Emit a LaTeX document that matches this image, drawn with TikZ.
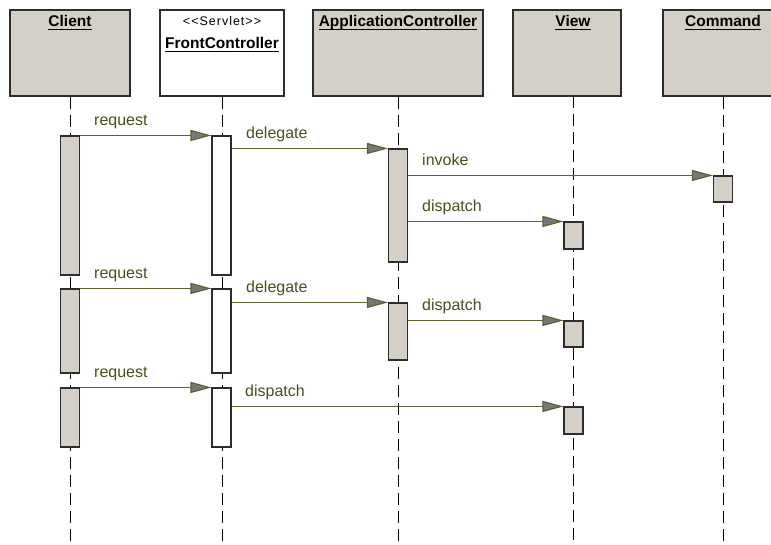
\documentclass[tikz,border=0pt]{standalone}
\usepackage{fontspec}
\setmainfont{Liberation Sans}
\usetikzlibrary{arrows.meta}
\definecolor{boxgray}{RGB}{212,208,200}
\definecolor{msgline}{RGB}{96,96,48}
\definecolor{msgtext}{RGB}{77,77,30}
\definecolor{tipgray}{RGB}{120,120,120}
\definecolor{edge}{RGB}{45,45,45}
\begin{document}
\begin{tikzpicture}[x=1pt,y=-1pt,
  head/.style={draw=edge, line width=1.2pt, fill=boxgray, minimum height=86pt, inner sep=0pt},
  title/.style={font=\fontsize{15.5}{18}\selectfont\bfseries, inner sep=0pt, anchor=base},
  stereo/.style={font=\fontsize{12.5}{15}\selectfont\addfontfeature{Ligatures=TeXOff,LetterSpace=8}, inner sep=0pt, anchor=base},
  uline/.style={draw=black, line width=1pt},
  life/.style={draw=black, line width=1pt, dash pattern=on 12pt off 6pt},
  bar/.style={draw=edge, line width=1.1pt, fill=boxgray, minimum width=19pt, inner sep=0pt},
  wbar/.style={bar, fill=white},
  msg/.style={draw=msgline, line width=1.2pt, -{Triangle[length=21pt,width=11pt,fill=tipgray]}},
  lbl/.style={font=\fontsize{16}{19}\selectfont, text=msgtext, inner sep=0pt, anchor=base west},
]
\useasboundingbox (0,0) rectangle (771,544);
\clip (0,0) rectangle (771,544);

% heads
\node[head, minimum width=120pt] (h1) at (70,53) {};
\node[head, minimum width=124pt, fill=white] (h2) at (222,53) {};
\node[head, minimum width=170pt] (h3) at (398,53) {};
\node[head, minimum width=108pt] (h4) at (567,53) {};
\node[head, minimum width=120pt] (h5) at (723,53) {};

\node[title] (t1) at (70,26) {Client};
\node[stereo] (s2) at (222,25) {<<Servlet>>};
\node[title] (t2) at (222,48) {FrontController};
\node[title] (t3) at (398,26) {ApplicationController};
\node[title] (t4) at (573,26) {View};
\node[title] (t5) at (723,26) {Command};
\foreach \t in {t1,t2,t3,t4,t5}
  \draw[uline] ([yshift=-3.5pt]\t.base west) -- ([yshift=-3.5pt]\t.base east);

% lifeline ends
\coordinate (e1) at (70,544);
\coordinate (e2) at (222,544);
\coordinate (e3) at (398,544);
\coordinate (e4) at (573,544);
\coordinate (e5) at (723,544);
\coordinate (l4) at (573,96);
\draw[life] (h1.south) -- (e1);
\draw[life] (h2.south) -- (e2);
\draw[life] (h3.south) -- (e3);
\draw[life] (l4) -- (e4);
\draw[life] (h5.south) -- (e5);

% activation bars
\node[bar, minimum height=139pt] (cb1) at (70,205.5) {};
\node[bar, minimum height=84pt] (cb2) at (70,331) {};
\node[bar, minimum height=59pt] (cb3) at (70,417.5) {};
\node[wbar, minimum height=139pt] (fb1) at (221.5,205.5) {};
\node[wbar, minimum height=84pt] (fb2) at (221.5,331) {};
\node[wbar, minimum height=59pt] (fb3) at (221.5,417.5) {};
\node[bar, minimum height=113pt] (ab1) at (398,205.5) {};
\node[bar, minimum height=57pt] (ab2) at (398,331.5) {};
\node[bar, minimum height=26pt] (mb1) at (723,189) {};
\node[bar, minimum height=27pt] (vb1) at (573.5,235.5) {};
\node[bar, minimum height=26pt] (vb2) at (573.5,334) {};
\node[bar, minimum height=27pt] (vb3) at (573.5,420.5) {};

% messages
\draw[msg] (cb1.north east) -- (fb1.north west);
\draw[msg] (fb1.east |- ab1.north) -- (ab1.north west);
\draw[msg] (ab1.east |- mb1.north) -- (mb1.north west);
\draw[msg] (ab1.east |- vb1.north) -- (vb1.north west);
\draw[msg] (cb2.north east) -- (fb2.north west);
\draw[msg] (fb2.east |- ab2.north) -- (ab2.north west);
\draw[msg] (ab2.east |- vb2.north) -- (vb2.north west);
\draw[msg] (cb3.north east) -- (fb3.north west);
\draw[msg] (fb3.east |- vb3.north) -- (vb3.north west);

% labels
\node[lbl] (m1) at (94,125) {request};
\node[lbl] (m2) at (246,138) {delegate};
\node[lbl] (m3) at (422,165) {invoke};
\node[lbl] (m4) at (422,211) {dispatch};
\node[lbl] (m5) at (94,278) {request};
\node[lbl] (m6) at (246,292) {delegate};
\node[lbl] (m7) at (422,310) {dispatch};
\node[lbl] (m8) at (94,377) {request};
\node[lbl] (m9) at (245,396) {dispatch};
\end{tikzpicture}
\end{document}
